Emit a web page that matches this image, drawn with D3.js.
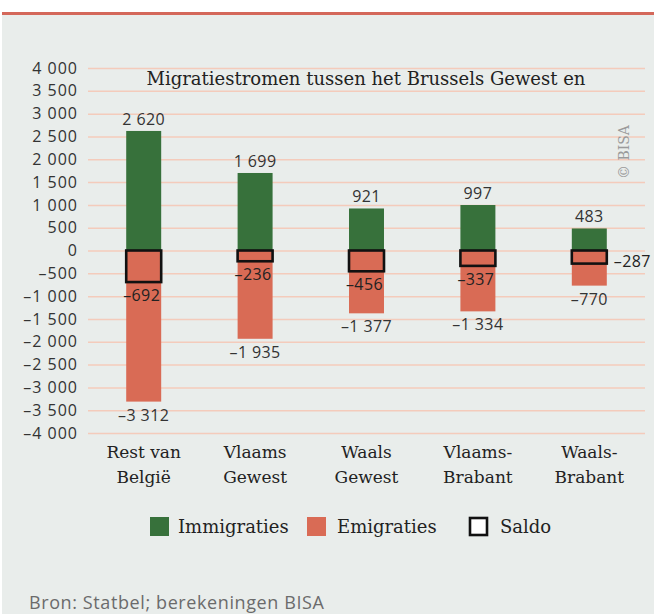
<!DOCTYPE html>
<html>
<head>
<meta charset="utf-8">
<script src="https://cdn.jsdelivr.net/npm/d3@7"></script>
<style>
  body { margin: 0; background: #fff; }
  svg { display: block; }
</style>
</head>
<body>
<div id="chart"></div>
<script>
var categories = [["Rest van", "België"], ["Vlaams", "Gewest"], ["Waals", "Gewest"], ["Vlaams-", "Brabant"], ["Waals-", "Brabant"]];
var immigraties = [2620, 1699, 921, 997, 483];
var emigraties = [-3312, -1935, -1377, -1334, -770];
var saldo = [-692, -236, -456, -337, -287];
var yTicks = d3.range(-4000, 4001, 500);

var width = 654, height = 614;
var green = "#37713b", red = "#d96b55", bg = "#e9edeb";
var sans = "'Open Sans', sans-serif", serif = "'DejaVu Serif', serif";

var loc = d3.formatLocale({decimal: ",", thousands: " ", grouping: [3], currency: ["", ""], minus: "\u2013"});
var fmt = loc.format(",d");

var svg = d3.select("#chart").append("svg")
    .attr("width", width)
    .attr("height", height);

// background + top red line
svg.append("rect").attr("x", 2).attr("y", 15).attr("width", width - 2).attr("height", height - 15).attr("fill", bg);
svg.append("rect").attr("x", 2).attr("y", 12).attr("width", width - 2).attr("height", 3).attr("fill", "#d4685a");

var x = d3.scaleBand()
    .domain(d3.range(categories.length))
    .range([88, 645])
    .paddingInner(0.686)
    .paddingOuter(0.343);

var y = d3.scaleLinear().domain([-4000, 4000]).range([433, 68]);

//Gridlines and tick labels
var yAxis = svg.append("g")
    .attr("transform", "translate(88,0)")
    .call(d3.axisLeft(y).tickValues(yTicks).tickFormat(fmt).tickSize(-557).tickPadding(10));
yAxis.select(".domain").remove();
yAxis.selectAll("line").attr("stroke", "#f4cbbb").attr("stroke-width", 1.5);
yAxis.selectAll("text")
    .style("font-family", sans)
    .style("font-size", "16px")
    .style("letter-spacing", "1px")
    .attr("fill", "#333");

// title
svg.append("text")
    .attr("x", 366)
    .attr("y", 85)
    .attr("text-anchor", "middle")
    .style("font-family", serif)
    .style("font-size", "18px")
    .attr("fill", "#222")
    .text("Migratiestromen tussen het Brussels Gewest en");

// copyright
svg.append("text")
    .attr("transform", "translate(629,152) rotate(-90)")
    .attr("text-anchor", "middle")
    .style("font-family", serif)
    .style("font-size", "14px")
    .attr("fill", "#9a9a9a")
    .text("© BISA");

var idx = d3.range(categories.length);

// bars
svg.selectAll(".imm").data(idx).enter().append("rect")
    .attr("x", function (i) { return x(i); })
    .attr("y", function (i) { return y(immigraties[i]); })
    .attr("width", x.bandwidth())
    .attr("height", function (i) { return y(0) - y(immigraties[i]); })
    .attr("fill", green);

svg.selectAll(".emi").data(idx).enter().append("rect")
    .attr("x", function (i) { return x(i); })
    .attr("y", y(0))
    .attr("width", x.bandwidth())
    .attr("height", function (i) { return y(emigraties[i]) - y(0); })
    .attr("fill", red);

svg.selectAll(".sal").data(idx).enter().append("rect")
    .attr("x", function (i) { return x(i); })
    .attr("y", y(0))
    .attr("width", x.bandwidth())
    .attr("height", function (i) { return y(saldo[i]) - y(0); })
    .attr("fill", "none")
    .attr("stroke", "#111")
    .attr("stroke-width", 2.6);

function label(sel) {
    return sel.style("font-family", sans).style("font-size", "16px").style("letter-spacing", "0.4px").attr("fill", "#333");
}

// value labels
label(svg.selectAll(".immlab").data(idx).enter().append("text"))
    .attr("x", function (i) { return x(i) + x.bandwidth() / 2; })
    .attr("y", function (i) { return y(immigraties[i]) - 6; })
    .attr("text-anchor", "middle")
    .text(function (i) { return fmt(immigraties[i]); });

label(svg.selectAll(".emilab").data(idx).enter().append("text"))
    .attr("x", function (i) { return x(i) + x.bandwidth() / 2; })
    .attr("y", function (i) { return y(emigraties[i]) + 19; })
    .attr("text-anchor", "middle")
    .text(function (i) { return fmt(emigraties[i]); });

//saldo label goes right of the box when it would not fit inside the red bar
function squeezed(i) {
    return y(emigraties[i]) - (y(saldo[i]) + 19) < 10;
}
label(svg.selectAll(".sallab").data(idx).enter().append("text"))
    .attr("x", function (i) { return squeezed(i) ? x(i) + x.bandwidth() + 7 : x(i) + x.bandwidth() / 2 - 2; })
    .attr("y", function (i) { return squeezed(i) ? y(saldo[i]) + 3 : y(saldo[i]) + 19; })
    .attr("text-anchor", function (i) { return squeezed(i) ? "start" : "middle"; })
    .attr("fill", "#222")
    .text(function (i) { return fmt(saldo[i]); });

// category labels
var cat = svg.selectAll(".cat").data(idx).enter().append("text")
    .attr("text-anchor", "middle")
    .style("font-family", serif)
    .style("font-size", "17px")
    .attr("fill", "#222");
cat.each(function (i) {
    var t = d3.select(this);
    categories[i].forEach(function (line, k) {
        t.append("tspan")
            .attr("x", x(i) + x.bandwidth() / 2)
            .attr("y", 458 + k * 25)
            .text(line);
    });
});

// legend
var legend = [
    {name: "Immigraties", fill: green, stroke: "none", x: 150, tx: 178},
    {name: "Emigraties", fill: red, stroke: "none", x: 307, tx: 337},
    {name: "Saldo", fill: "#fff", stroke: "#111", x: 469, tx: 500}
];
var lg = svg.selectAll(".lg").data(legend).enter().append("g");
lg.append("rect")
    .attr("x", function (d) { return d.stroke === "none" ? d.x : d.x + 1; })
    .attr("y", function (d) { return d.stroke === "none" ? 517 : 518; })
    .attr("width", function (d) { return d.stroke === "none" ? 19 : 17; })
    .attr("height", function (d) { return d.stroke === "none" ? 19 : 17; })
    .attr("fill", function (d) { return d.fill; })
    .attr("stroke", function (d) { return d.stroke; })
    .attr("stroke-width", 2.6);
lg.append("text")
    .attr("x", function (d) { return d.tx; })
    .attr("y", 533)
    .style("font-family", serif)
    .style("font-size", "18px")
    .attr("fill", "#222")
    .text(function (d) { return d.name; });

// source
svg.append("text")
    .attr("x", 29)
    .attr("y", 609)
    .style("font-family", sans)
    .style("font-size", "18px")
    .style("letter-spacing", "0.6px")
    .attr("fill", "#6b6b6b")
    .text("Bron: Statbel; berekeningen BISA");
</script>
</body>
</html>
